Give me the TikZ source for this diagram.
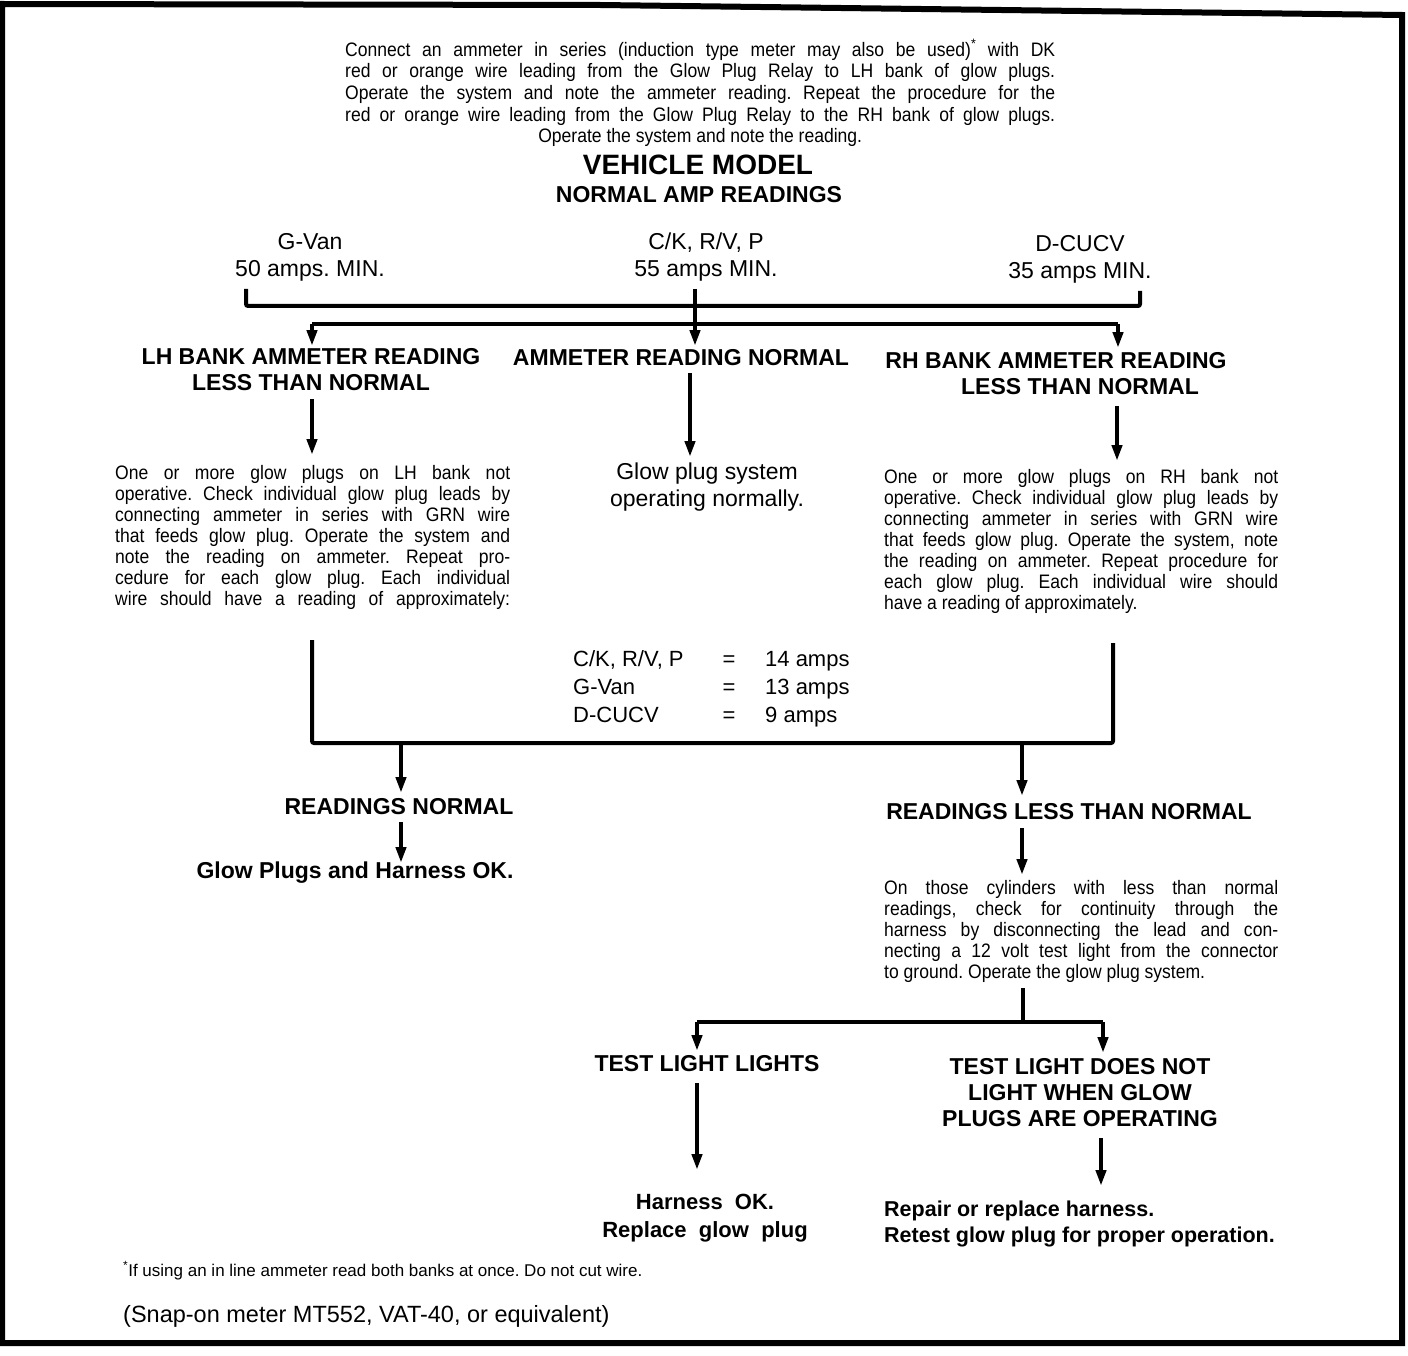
\documentclass[tikz,border=0pt]{standalone}
\usepackage{fontspec}
\setmainfont{Liberation Sans}
\newfontfamily\condf[FakeStretch=0.9]{Liberation Sans}
\usetikzlibrary{arrows.meta}
\newcommand{\jl}[2]{\makebox[#1][s]{#2}}
\frenchspacing
\begin{document}
\begin{tikzpicture}[x=1pt,y=-1pt,
  ln/.style={line width=4pt,rounded corners=2pt},
  arr/.style={line width=4pt,-{Triangle[length=16pt,width=10pt]}},
  framestyle/.style={line width=6pt,line join=miter},
  head/.style={font=\fontsize{23}{26}\selectfont\bfseries,inner sep=0pt,anchor=base,align=center},
  bighead/.style={font=\fontsize{28}{32}\selectfont\bfseries,inner sep=0pt,anchor=base},
  reg/.style={font=\fontsize{23}{27}\selectfont,inner sep=0pt,anchor=base,align=center},
  body/.style={font=\condf\fontsize{19.5}{21}\selectfont\frenchspacing,inner sep=0pt,anchor=base west,align=left},
  heavy/.style={font=\fontsize{21.5}{26}\selectfont\bfseries,inner sep=0pt,anchor=base west,align=left},
]
\useasboundingbox (0,0) rectangle (1408,1356);
\fill[white] (0,0) rectangle (1408,1356);
% frame
\draw[framestyle] (2,4) -- (600,5) -- (1402,15) -- (1402,1343) -- (2,1343) -- cycle;

% top text (base anchor = last line)
\node[font=\condf\fontsize{19.5}{21.7}\selectfont\frenchspacing,inner sep=0pt,anchor=base west,align=left] (intro) at (345,143) {%
\jl{710pt}{Connect an ammeter in series (induction type meter may also be used)\textsuperscript{*} with DK}\\
\jl{710pt}{red or orange wire leading from the Glow Plug Relay to LH bank of glow plugs.}\\
\jl{710pt}{Operate the system and note the ammeter reading. Repeat the procedure for the}\\
\jl{710pt}{red or orange wire leading from the Glow Plug Relay to the RH bank of glow plugs.}\\
\makebox[710pt][c]{Operate the system and note the reading.}};

\node[bighead] (vm) at (698,175) {VEHICLE MODEL};
\node[head] (nar) at (699,203) {NORMAL AMP READINGS};

\node[reg] (gvan) at (310,277) {G-Van\\50 amps. MIN.};
\node[reg] (ck) at (706,277) {C/K, R/V, P\\55 amps MIN.};
\node[reg] (dc) at (1080,279) {D-CUCV\\35 amps MIN.};

% first bracket
\coordinate (b1) at (246,289);
\coordinate (b2) at (246,306);
\coordinate (b3) at (1140,306);
\coordinate (b4) at (1140,291);
\draw[ln] (b1) -- (b2) -- (b3) -- (b4);
\coordinate (c0) at (695,289);
\coordinate (s1) at (312,324);
\coordinate (s2) at (695,324);
\coordinate (s3) at (1118,324);
\draw[ln] (s1) -- (s3);

% headings
\node[head] (lhh) at (311,390) {LH BANK AMMETER READING\\LESS THAN NORMAL};
\node[head] (mid) at (681,365) {AMMETER READING NORMAL};
\node[head] (rhh1) at (1056,368) {RH BANK AMMETER READING};
\node[head] (rhh2) at (1080,394) {LESS THAN NORMAL};

\coordinate (t1) at (312,346);
\coordinate (t2) at (695,346);
\coordinate (t3) at (1118,348);
\draw[arr] (s1) -- (t1);
\draw[arr] (c0) -- (t2);
\draw[arr] (s3) -- (t3);

% arrows to paragraphs
\coordinate (a1) at (312,399);
\coordinate (a1e) at (312,455);
\coordinate (a2) at (690,373);
\coordinate (a2e) at (690,457);
\coordinate (a3) at (1117,406);
\coordinate (a3e) at (1117,461);
\draw[arr] (a1) -- (a1e);
\draw[arr] (a2) -- (a2e);
\draw[arr] (a3) -- (a3e);

\node[body] (lhp) at (115,605) {%
\jl{395pt}{One or more glow plugs on LH bank not}\\
\jl{395pt}{operative. Check individual glow plug leads by}\\
\jl{395pt}{connecting ammeter in series with GRN wire}\\
\jl{395pt}{that feeds glow plug. Operate the system and}\\
\jl{395pt}{note the reading on ammeter. Repeat pro-}\\
\jl{395pt}{cedure for each glow plug. Each individual}\\
\jl{395pt}{wire should have a reading of approximately:}};

\node[reg] (gps) at (707,506) {Glow plug system\\operating normally.};

\node[body] (rhp) at (884,609) {%
\jl{394pt}{One or more glow plugs on RH bank not}\\
\jl{394pt}{operative. Check individual glow plug leads by}\\
\jl{394pt}{connecting ammeter in series with GRN wire}\\
\jl{394pt}{that feeds glow plug. Operate the system, note}\\
\jl{394pt}{the reading on ammeter. Repeat procedure for}\\
\jl{394pt}{each glow plug. Each individual wire should}\\
have a reading of approximately.};

% table
\node[reg,anchor=base west,align=left,font=\fontsize{22}{28}\selectfont] (tcol1) at (573,722) {C/K, R/V, P\\G-Van\\D-CUCV};
\node[reg,anchor=base,font=\fontsize{22}{28}\selectfont] (tcol2) at (729,722) {=\\=\\=};
\node[reg,anchor=base west,align=left,font=\fontsize{22}{28}\selectfont] (tcol3) at (765,722) {14 amps\\13 amps\\9 amps};

% collector
\coordinate (k1) at (312,640);
\coordinate (k2) at (312,743);
\coordinate (k3) at (1113,743);
\coordinate (k4) at (1113,643);
\draw[ln] (k1) -- (k2) -- (k3) -- (k4);
\coordinate (k5) at (401,743);
\coordinate (k5e) at (401,793);
\coordinate (k6) at (1022,743);
\coordinate (k6e) at (1022,796);
\draw[arr] (k5) -- (k5e);
\draw[arr] (k6) -- (k6e);

\node[head] (rn) at (399,814) {READINGS NORMAL};
\coordinate (r1) at (401,822);
\coordinate (r1e) at (401,863);
\draw[arr] (r1) -- (r1e);
\node[head] (gok) at (355,878) {Glow Plugs and Harness OK.};

\node[head] (rl) at (1069,819) {READINGS LESS THAN NORMAL};
\coordinate (r2) at (1022,828);
\coordinate (r2e) at (1022,875);
\draw[arr] (r2) -- (r2e);

\node[body] (cp) at (884,978) {%
\jl{394pt}{On those cylinders with less than normal}\\
\jl{394pt}{readings, check for continuity through the}\\
\jl{394pt}{harness by disconnecting the lead and con-}\\
\jl{394pt}{necting a 12 volt test light from the connector}\\
to ground. Operate the glow plug system.};

% split
\coordinate (p0) at (1023,988);
\coordinate (p1) at (1023,1022);
\coordinate (p2) at (697,1022);
\coordinate (p3) at (1103,1022);
\coordinate (p2e) at (697,1051);
\coordinate (p3e) at (1103,1053);
\draw[ln] (p0) -- (p1);
\draw[ln] (p2) -- (p3);
\draw[arr] (p2) -- (p2e);
\draw[arr] (p3) -- (p3e);

\node[head] (tll) at (707,1071) {TEST LIGHT LIGHTS};
\node[head] (tld) at (1080,1126) {TEST LIGHT DOES NOT\\LIGHT WHEN GLOW\\PLUGS ARE OPERATING};

\coordinate (q1) at (697,1083);
\coordinate (q1e) at (697,1170);
\coordinate (q2) at (1101,1138);
\coordinate (q2e) at (1101,1186);
\draw[arr] (q1) -- (q1e);
\draw[arr] (q2) -- (q2e);

\node[head,font=\fontsize{22}{28}\selectfont\bfseries] (hok) at (705,1237) {Harness\ \ OK.\\Replace\ \ glow\ \ plug};
\node[heavy] (rep) at (884,1242) {Repair or replace harness.\\Retest glow plug for proper operation.};

\node[inner sep=0pt,anchor=base west,font=\fontsize{17}{20}\selectfont] (fn) at (123,1276) {\textsuperscript{*}If using an in line ammeter read both banks at once. Do not cut wire.};
\node[inner sep=0pt,anchor=base west,font=\fontsize{23.5}{27}\selectfont] (snap) at (123,1322) {(Snap-on meter MT552, VAT-40, or equivalent)};
\end{tikzpicture}
\end{document}
